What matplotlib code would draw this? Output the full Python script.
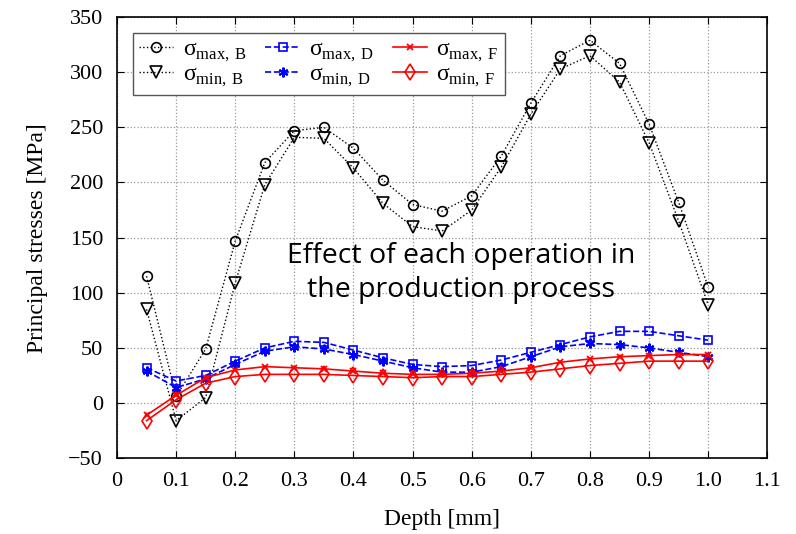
import numpy as np
import matplotlib.pyplot as plt

depth = [0.05, 0.10, 0.15, 0.20, 0.25, 0.30, 0.35, 0.40, 0.45, 0.50,
         0.55, 0.60, 0.65, 0.70, 0.75, 0.80, 0.85, 0.90, 0.95, 1.00]

max_B = [115, 6, 49, 147, 218, 247, 250, 231, 202, 180,
         174, 188, 224, 272, 315, 329, 308, 253, 182, 105]
min_B = [85, -16, 5, 109, 198, 241, 240, 213, 181, 160,
         156, 175, 214, 262, 303, 315, 291, 236, 165, 89]
max_D = [32, 20, 25, 38, 50, 56, 55, 48, 41, 35,
         33, 34, 39, 46, 53, 60, 65, 65, 61, 57]
min_D = [29, 14, 22, 35, 47, 51, 49, 44, 38, 32,
         28, 28, 33, 42, 51, 54, 53, 50, 46, 42]
max_F = [-11, 7, 23, 30, 33, 32, 31, 29, 27, 26,
         26, 27, 29, 32, 37, 40, 42, 43, 44, 44]
min_F = [-16, 3, 18, 24, 26, 26, 26, 25, 24, 23,
         24, 24, 26, 28, 31, 34, 36, 38, 38, 38]

plt.rcParams['font.family'] = 'Liberation Serif'
plt.rcParams['mathtext.fontset'] = 'custom'
plt.rcParams['mathtext.rm'] = 'Liberation Serif'

fig = plt.figure(figsize=(7.96, 5.34), dpi=100)
ax = fig.add_axes([0.147, 0.142, 0.817, 0.826])

ast = (6, 2, 0)
ax.plot(depth, max_B, ':', color='k', lw=1, marker='o', ms=7, mfc='none', mew=1.2,
        label=r'σ$_{\mathregular{max,\,B}}$')
ax.plot(depth, min_B, ':', color='k', lw=1, marker='v', ms=8, mfc='none', mew=1.2,
        label=r'σ$_{\mathregular{min,\,B}}$')
ax.plot(depth, max_D, '--', color='blue', lw=1.2, marker='s', ms=6, mfc='none', mew=1.2,
        label=r'σ$_{\mathregular{max,\,D}}$')
ax.plot(depth, min_D, '--', color='blue', lw=1.2, marker=ast, ms=7, mew=1.5,
        label=r'σ$_{\mathregular{min,\,D}}$')
ax.plot(depth, max_F, '-', color='red', lw=1.2, marker='x', ms=5, mew=1.3,
        label=r'σ$_{\mathregular{max,\,F}}$')
ax.plot(depth, min_F, '-', color='red', lw=1.2, marker='d', ms=8, mfc='none', mew=1.2,
        label=r'σ$_{\mathregular{min,\,F}}$')

ax.set_xlim(0, 1.1)
ax.set_ylim(-50, 350)
ax.set_xticks(np.arange(0, 1.11, 0.1))
ax.set_xticklabels(['0', '0.1', '0.2', '0.3', '0.4', '0.5', '0.6', '0.7', '0.8', '0.9', '1.0', '1.1'])
ax.set_yticks(np.arange(-50, 351, 50))
ax.tick_params(direction='in', top=True, right=True, labelsize=16, length=5, pad=10)
ax.grid(True, linestyle=':', color='#999999', lw=0.9)
ax.set_xlabel('Depth [mm]', fontsize=17, labelpad=13)
ax.set_ylabel('Principal stresses [MPa]', fontsize=17, labelpad=15)
for s in ax.spines.values():
    s.set_linewidth(1.2)

leg = ax.legend(loc='upper left', ncol=3, fontsize=17, fancybox=False,
                edgecolor='#555555', framealpha=1, handlelength=1.45,
                handletextpad=0.4, borderpad=0.25, labelspacing=0.02,
                columnspacing=0.8, bbox_to_anchor=(0.025, 0.965),
                borderaxespad=0)
leg.get_frame().set_linewidth(1.0)

ax.text(0.529, 0.42, 'Effect of each operation in\nthe production process',
        transform=ax.transAxes, ha='center', va='center', fontsize=20.5,
        family='Open Sans', linespacing=1.3)

fig.savefig('out.png', dpi=100)
